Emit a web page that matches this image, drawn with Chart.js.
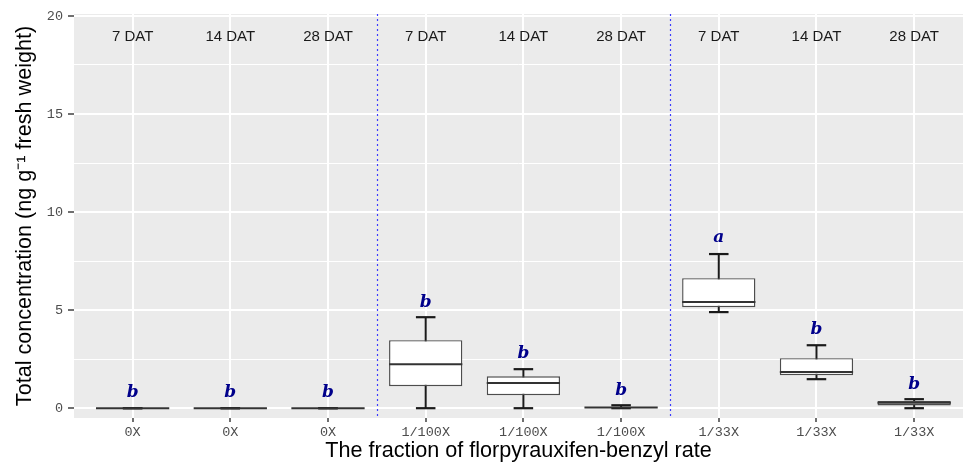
<!DOCTYPE html>
<html>
<head>
<meta charset="utf-8">
<script src="https://cdn.jsdelivr.net/npm/chart.js@4.4.1/dist/chart.umd.min.js"></script>
<style>
  html, body { margin: 0; padding: 0; background: #fff; }
  #wrap { width: 963px; height: 462px; }
</style>
</head>
<body>
<div id="wrap"><canvas id="mycanvas" width="963" height="462"></canvas></div>
<script>
// rate fraction on x axis, sampling time in the strip above
var categories = ['0X', '0X', '0X', '1/100X', '1/100X', '1/100X', '1/33X', '1/33X', '1/33X'];
var timing = ['7 DAT', '14 DAT', '28 DAT', '7 DAT', '14 DAT', '28 DAT', '7 DAT', '14 DAT', '28 DAT'];

// box plot stats (ng g-1 fresh weight)
var whiskerLow  = [0, 0, 0, 0,    0,    0,    4.90, 1.48, 0];
var q1          = [0, 0, 0, 1.12, 0.66, 0,    5.15, 1.68, 0.14];
var median      = [0, 0, 0, 2.24, 1.28, 0.03, 5.41, 1.84, 0.28];
var q3          = [0, 0, 0, 3.47, 1.63, 0.06, 6.63, 2.55, 0.37];
var whiskerHigh = [0, 0, 0, 4.64, 1.99, 0.15, 7.86, 3.21, 0.46];

// mean separation letters and where they sit
var letters = ['b', 'b', 'b', 'b', 'b', 'b', 'a', 'b', 'b'];
var letterY = [0.8, 0.8, 0.8, 5.4, 2.8, 0.9, 8.7, 4.0, 1.2];

// group separators and y ticks
var separators = [2.5, 5.5];
var yTicks = [0, 2.5, 5, 7.5, 10, 12.5, 15, 17.5, 20];
var stripY = 18.95;

var boxData = categories.map(function(c, i) {
  return { x: i, y: [q1[i], q3[i]] };
});

var boxPlugin = {
  id: 'boxExtras',
  beforeDraw: function(chart) {
    var a = chart.chartArea, ctx = chart.ctx;
    ctx.save();
    ctx.fillStyle = '#EBEBEB';
    ctx.fillRect(a.left, a.top, a.right - a.left, a.bottom - a.top);
    ctx.restore();
  },
  beforeDatasetsDraw: function(chart) {
    var ctx = chart.ctx, x = chart.scales.x, y = chart.scales.y, a = chart.chartArea;
    ctx.save();
    // dotted separators
    ctx.strokeStyle = '#3c3cff';
    ctx.lineWidth = 1.2;
    ctx.setLineDash([2, 3]);
    separators.forEach(function(s) {
      var px = Math.round(x.getPixelForValue(s)) + 0.5;
      ctx.beginPath();
      ctx.moveTo(px, a.top);
      ctx.lineTo(px, a.bottom);
      ctx.stroke();
    });
    ctx.setLineDash([]);
    // whisker stems
    ctx.strokeStyle = '#1a1a1a';
    ctx.lineWidth = 2;
    categories.forEach(function(c, i) {
      var px = x.getPixelForValue(i);
      ctx.beginPath();
      ctx.moveTo(px, y.getPixelForValue(whiskerLow[i]));
      ctx.lineTo(px, y.getPixelForValue(whiskerHigh[i]));
      ctx.stroke();
    });
    // strip labels
    ctx.fillStyle = '#1a1a1a';
    ctx.font = '15px "Liberation Sans", Arial, sans-serif';
    ctx.textAlign = 'center';
    ctx.textBaseline = 'middle';
    timing.forEach(function(t, i) {
      ctx.fillText(t, x.getPixelForValue(i), y.getPixelForValue(stripY));
    });
    ctx.restore();
  },
  afterDatasetsDraw: function(chart) {
    var ctx = chart.ctx, x = chart.scales.x, y = chart.scales.y;
    var step = x.getPixelForValue(1) - x.getPixelForValue(0);
    var capHalf = step * 0.1, boxHalf = step * 0.375;
    ctx.save();
    categories.forEach(function(c, i) {
      var px = x.getPixelForValue(i);
      // caps
      ctx.strokeStyle = '#1a1a1a';
      ctx.lineWidth = 2.2;
      [whiskerLow[i], whiskerHigh[i]].forEach(function(v) {
        var py = y.getPixelForValue(v);
        ctx.beginPath();
        ctx.moveTo(px - capHalf, py);
        ctx.lineTo(px + capHalf, py);
        ctx.stroke();
      });
      // median
      ctx.strokeStyle = '#333333';
      ctx.lineWidth = 2;
      var my = y.getPixelForValue(median[i]);
      ctx.beginPath();
      ctx.moveTo(px - boxHalf, my);
      ctx.lineTo(px + boxHalf, my);
      ctx.stroke();
      // letters
      ctx.fillStyle = '#00008B';
      ctx.font = 'bold italic 17px "DejaVu Serif", serif';
      ctx.textAlign = 'center';
      ctx.textBaseline = 'middle';
      ctx.fillText(letters[i], px, y.getPixelForValue(letterY[i]));
    });
    ctx.restore();
  }
};

var ctx = document.getElementById('mycanvas');

var boxChart = new Chart(ctx, {
  type: 'bar',
  data: {
    datasets: [{
      label: 'IQR',
      data: boxData,
      backgroundColor: '#ffffff',
      borderColor: '#4d4d4d',
      borderWidth: 1.4,
      borderSkipped: false,
      barPercentage: 0.75,
      categoryPercentage: 1.0
    }]
  },
  options: {
    responsive: false,
    animation: false,
    layout: { padding: { top: 14, right: 0, left: 0, bottom: 0 } },
    scales: {
      x: {
        type: 'linear',
        min: -0.6,
        max: 8.5,
        offset: false,
        afterFit: function(scale) { scale.height = 44; },
        afterBuildTicks: function(scale) {
          scale.ticks = categories.map(function(c, i) { return { value: i }; });
        },
        ticks: {
          autoSkip: false,
          maxRotation: 0,
          padding: 2,
          color: '#4d4d4d',
          font: { family: '"Liberation Mono", "DejaVu Sans Mono", monospace', size: 13.5 },
          callback: function(v) { return categories[v]; }
        },
        grid: { offset: false, color: '#ffffff', lineWidth: 2, tickColor: '#333333', tickLength: 4, tickWidth: 1.4 },
        border: { display: false },
        title: {
          display: true,
          text: 'The fraction of florpyrauxifen-benzyl rate',
          color: '#000000',
          padding: { top: 0, bottom: 0 },
          font: { family: '"Liberation Sans", Arial, sans-serif', size: 21.6, lineHeight: 1 }
        }
      },
      y: {
        min: -0.5,
        max: 20.1,
        afterFit: function(scale) { scale.width = 74; },
        afterBuildTicks: function(scale) {
          scale.ticks = yTicks.map(function(v) { return { value: v }; });
        },
        ticks: {
          padding: 5,
          color: '#4d4d4d',
          font: { family: '"Liberation Mono", "DejaVu Sans Mono", monospace', size: 13.5 },
          callback: function(v) { return v % 5 === 0 ? String(v) : ''; }
        },
        grid: {
          color: '#ffffff',
          lineWidth: function(c) { return c.tick && c.tick.value % 5 === 0 ? 2 : 1; },
          tickColor: function(c) { return c.tick && c.tick.value % 5 === 0 ? '#333333' : 'rgba(0,0,0,0)'; },
          tickLength: 6,
          tickWidth: 1.4
        },
        border: { display: false },
        title: {
          display: true,
          text: 'Total concentration (ng g\u207B\u00B9 fresh weight)',
          color: '#000000',
          padding: { top: 14, bottom: 0 },
          font: { family: '"Liberation Sans", Arial, sans-serif', size: 21.6, lineHeight: 1 }
        }
      }
    },
    plugins: {
      legend: { display: false },
      tooltip: { enabled: false }
    }
  },
  plugins: [boxPlugin]
});
</script>
</body>
</html>
